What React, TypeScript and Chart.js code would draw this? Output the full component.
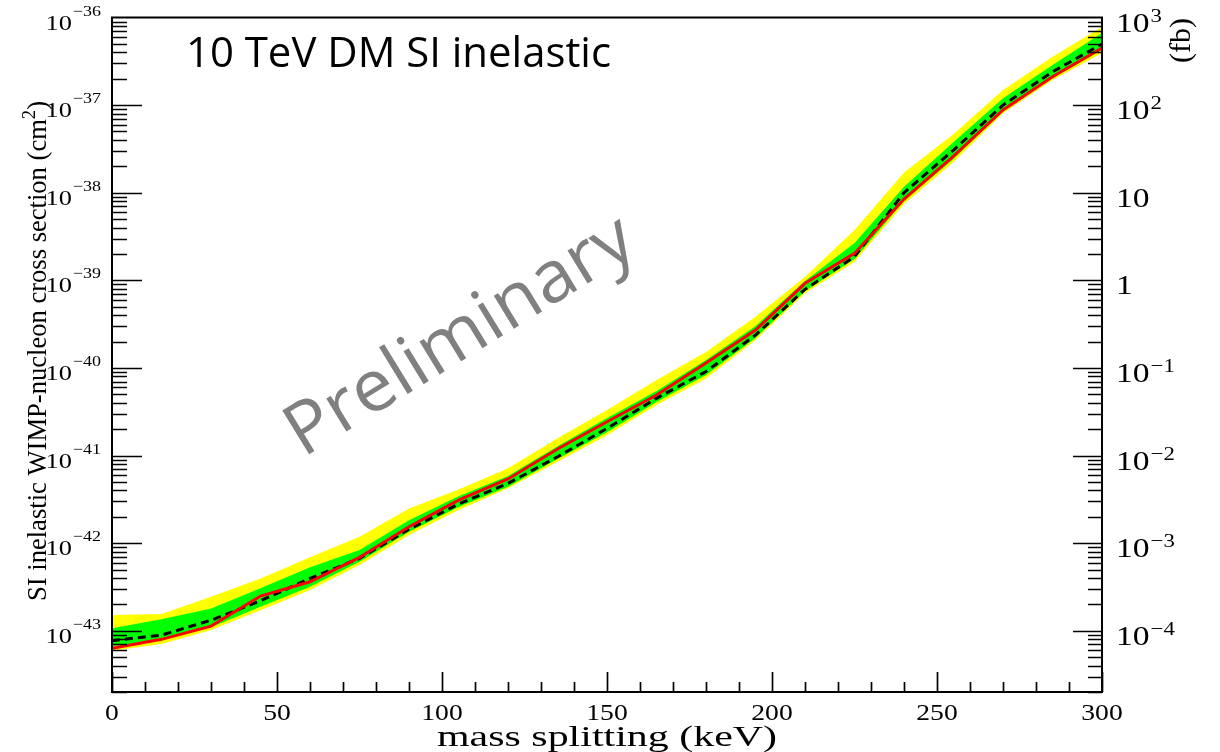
import React, { useEffect, useRef } from "react";
import { Chart, registerables } from "chart.js";

Chart.register(...registerables);

// ---------------- data ----------------
const massSplitting = [0, 15, 30, 45, 60, 75, 90, 105, 120, 135, 150, 165, 180, 195, 210, 225, 240, 255, 270, 285, 300];

const yellowUpper = [1.51e-43, 1.55e-43, 2.44e-43, 3.96e-43, 6.89e-43, 1.18e-42, 2.49e-42, 4.11e-42, 7.14e-42, 1.58e-41, 3.3e-41, 7.28e-41, 1.52e-40, 3.84e-40, 1.1e-39, 3.75e-39, 1.7e-38, 4.68e-38, 1.49e-37, 3.57e-37, 7.85e-37];
const greenUpper = [1.07e-43, 1.35e-43, 1.8e-43, 3.05e-43, 5.3e-43, 8.34e-43, 1.83e-42, 3.44e-42, 5.83e-42, 1.28e-41, 2.68e-41, 5.45e-41, 1.23e-40, 3.01e-40, 9.8e-40, 2.67e-39, 1.17e-38, 3.79e-38, 1.2e-37, 2.87e-37, 6.65e-37];
const expected = [7.7e-44, 8.93e-44, 1.32e-43, 2.2e-43, 3.96e-43, 6.7e-43, 1.44e-42, 2.79e-42, 4.81e-42, 9.68e-42, 2.04e-41, 4.5e-41, 9.1e-41, 2.37e-40, 7.89e-40, 1.86e-39, 1.0e-38, 3.07e-38, 1.0e-37, 2.4e-37, 4.98e-37];
const observed = [6.3e-44, 7.98e-44, 1.13e-43, 2.49e-43, 3.62e-43, 6.89e-43, 1.54e-42, 3.1e-42, 5.4e-42, 1.19e-41, 2.43e-41, 4.9e-41, 1.14e-40, 2.71e-40, 9.25e-40, 2.03e-39, 8.47e-39, 2.62e-38, 8.79e-38, 2.11e-37, 4.49e-37];
const greenLower = [6.7e-44, 7.82e-44, 1.1e-43, 1.88e-43, 3.18e-43, 6.12e-43, 1.35e-42, 2.58e-42, 4.41e-42, 9.12e-42, 1.85e-41, 4.08e-41, 8.3e-41, 2.19e-40, 7.55e-40, 1.75e-39, 8.04e-39, 2.43e-38, 8.57e-38, 2.04e-37, 4.26e-37];
const yellowLower = [5.9e-44, 7.05e-44, 1.02e-43, 1.72e-43, 2.91e-43, 5.62e-43, 1.24e-42, 2.39e-42, 4.22e-42, 8.49e-42, 1.71e-41, 3.77e-41, 7.6e-41, 2.08e-40, 7.1e-40, 1.63e-39, 7.43e-39, 2.24e-38, 8.05e-38, 1.94e-37, 3.94e-37];

// axis ranges and tick labels
const xMin = 0;
const xMax = 300;
const xTickLabels = ["0", "50", "100", "150", "200", "250", "300"];
const yMin = 2e-44;
const yMax = 1e-36;
const leftExponents = [-36, -37, -38, -39, -40, -41, -42, -43];
const fbPerCm2 = 1e39;
const rightTickBases = ["10", "10", "10", "1", "10", "10", "10", "10"];
const rightTickSups = ["3", "2", "", "", "−1", "−2", "−3", "−4"];
const rightTickValues = [1e3, 1e2, 10, 1, 1e-1, 1e-2, 1e-3, 1e-4];

const titleText = "10 TeV DM SI inelastic";
const watermarkText = "Preliminary";
const xTitle = "mass splitting (keV)";
const yTitleMain = "SI inelastic WIMP-nucleon cross section (cm";
const yTitleSup = "2";
const yTitleEnd = ")";
const y2Title = "(fb)";

const SERIF = '"Liberation Serif", "Times New Roman", serif';
const SANS = '"Open Sans", "Noto Sans", sans-serif';

function drawText(
  ctx: CanvasRenderingContext2D,
  s: string,
  x: number,
  y: number,
  size: number,
  sx: number,
  align: CanvasTextAlign,
  family: string,
  color = "#000"
) {
  ctx.save();
  ctx.translate(x, y);
  ctx.scale(sx, 1);
  ctx.font = `${size}px ${family}`;
  ctx.textAlign = align;
  ctx.textBaseline = "alphabetic";
  ctx.fillStyle = color;
  ctx.fillText(s, 0, 0);
  ctx.restore();
}

function textWidth(ctx: CanvasRenderingContext2D, s: string, size: number, family: string) {
  ctx.save();
  ctx.font = `${size}px ${family}`;
  const w = ctx.measureText(s).width;
  ctx.restore();
  return w;
}

const rootAxesPlugin = {
  id: "rootAxes",
  afterDatasetsDraw(chart: any) {
    const ctx: CanvasRenderingContext2D = chart.ctx;
    const { left, right, top, bottom } = chart.chartArea;
    const xs = chart.scales.x;
    const ys = chart.scales.y;
    const y2 = chart.scales.y2;
    ctx.save();
    ctx.strokeStyle = "#000";
    ctx.lineCap = "butt";

    // inward ticks (ROOT style)
    ctx.lineWidth = 1.7;
    ctx.beginPath();
    for (let v = xMin; v <= xMax; v += 10) {
      const px = Math.round(xs.getPixelForValue(v)) + 0.5;
      const len = v % 50 === 0 ? 20 : 10;
      ctx.moveTo(px, bottom);
      ctx.lineTo(px, bottom - len);
    }
    for (let e = -44; e <= -37; e++) {
      for (let k = 1; k <= 9; k++) {
        const v = k * Math.pow(10, e);
        if (v < yMin * 0.999 || v > yMax * 1.001) continue;
        const py = Math.round(ys.getPixelForValue(v)) + 0.5;
        const len = k === 1 ? 30 : 15;
        ctx.moveTo(left, py);
        ctx.lineTo(left + len, py);
      }
    }
    for (let e = -5; e <= 2; e++) {
      for (let k = 1; k <= 9; k++) {
        const v = k * Math.pow(10, e);
        if (v < yMin * fbPerCm2 * 0.999 || v > yMax * fbPerCm2 * 1.001) continue;
        const py = Math.round(y2.getPixelForValue(v)) + 0.5;
        const len = k === 1 ? 29 : 14;
        ctx.moveTo(right, py);
        ctx.lineTo(right - len, py);
      }
    }
    ctx.stroke();

    // frame
    ctx.lineWidth = 2;
    ctx.strokeRect(left, top, right - left, bottom - top);
    ctx.restore();
  },
  afterDraw(chart: any) {
    const ctx: CanvasRenderingContext2D = chart.ctx;
    const { left, right, bottom } = chart.chartArea;
    const xs = chart.scales.x;
    const ys = chart.scales.y;
    const y2 = chart.scales.y2;
    const SX = 1.2;

    // left tick labels 10^e
    leftExponents.forEach((e) => {
      const py = ys.getPixelForValue(Math.pow(10, e));
      const base = py + 12;
      const sup = "−" + Math.abs(e);
      const supW = textWidth(ctx, sup, 15, SERIF) * SX;
      const xr = left - 11;
      drawText(ctx, sup, xr, base - 14, 15, SX, "right", SERIF);
      drawText(ctx, "10", xr - supW - 1, base, 22, SX, "right", SERIF);
    });

    // right tick labels (fb)
    rightTickValues.forEach((v, i) => {
      const py = y2.getPixelForValue(v);
      const base = py + 14;
      const x0 = right + 14;
      drawText(ctx, rightTickBases[i], x0, base, 28, SX, "left", SERIF);
      if (rightTickSups[i]) {
        const bw = textWidth(ctx, rightTickBases[i], 28, SERIF) * SX;
        drawText(ctx, rightTickSups[i], x0 + bw + 1, base - 10, 19, SX, "left", SERIF);
      }
    });

    // bottom tick labels
    xTickLabels.forEach((lab) => {
      const px = xs.getPixelForValue(Number(lab));
      drawText(ctx, lab, px, bottom + 28, 23, SX, "center", SERIF);
    });

    // x axis title
    {
      const fs = 30;
      const w = textWidth(ctx, xTitle, fs, SERIF);
      drawText(ctx, xTitle, (left + right) / 2, bottom + 54, fs, 340 / w, "center", SERIF);
    }

    // y axis title (rotated, reads bottom to top)
    {
      const fs = 27;
      const wMain = textWidth(ctx, yTitleMain, fs, SERIF);
      const wSup = textWidth(ctx, yTitleSup, fs * 0.7, SERIF);
      const wEnd = textWidth(ctx, yTitleEnd, fs, SERIF);
      const total = wMain + wSup + wEnd;
      const k = 500 / total;
      ctx.save();
      ctx.translate(46, 601);
      ctx.rotate(-Math.PI / 2);
      ctx.scale(k, 1);
      ctx.fillStyle = "#000";
      ctx.textBaseline = "alphabetic";
      ctx.textAlign = "left";
      ctx.font = `${fs}px ${SERIF}`;
      ctx.fillText(yTitleMain, 0, 0);
      ctx.font = `${fs * 0.7}px ${SERIF}`;
      ctx.fillText(yTitleSup, wMain, -fs * 0.42);
      ctx.font = `${fs}px ${SERIF}`;
      ctx.fillText(yTitleEnd, wMain + wSup, 0);
      ctx.restore();
    }

    // right axis title
    {
      const fs = 29;
      ctx.save();
      ctx.translate(1190, 63);
      ctx.rotate(-Math.PI / 2);
      ctx.font = `${fs}px ${SERIF}`;
      ctx.fillStyle = "#000";
      ctx.textAlign = "left";
      ctx.textBaseline = "alphabetic";
      const w = ctx.measureText(y2Title).width;
      ctx.scale(45 / w, 1);
      ctx.fillText(y2Title, 0, 0);
      ctx.restore();
    }

    // overlay title
    {
      const fs = 42;
      const w = textWidth(ctx, titleText, fs, SANS);
      drawText(ctx, titleText, 186, 67, fs, 425 / w, "left", SANS);
    }

    // watermark
    {
      const fs = 72;
      ctx.save();
      ctx.translate(303, 458);
      ctx.rotate((-31.5 * Math.PI) / 180);
      ctx.font = `${fs}px ${SANS}`;
      const w = ctx.measureText(watermarkText).width;
      ctx.scale(395 / w, 1);
      ctx.fillStyle = "#808080";
      ctx.textAlign = "left";
      ctx.textBaseline = "alphabetic";
      ctx.fillText(watermarkText, 0, 0);
      ctx.restore();
    }
  },
};

function pts(arr: number[]) {
  return massSplitting.map((x, i) => ({ x, y: arr[i] }));
}

export default function App() {
  const canvasRef = useRef<HTMLCanvasElement | null>(null);

  useEffect(() => {
    const canvas = canvasRef.current;
    if (!canvas) return;
    const chart = new Chart(canvas, {
      type: "line",
      data: {
        datasets: [
          { label: "±2σ upper", data: pts(yellowUpper), fill: "+1", backgroundColor: "#ffff00", borderColor: "transparent", borderWidth: 0, pointRadius: 0, order: 6 },
          { label: "±2σ lower", data: pts(yellowLower), fill: false, borderColor: "transparent", borderWidth: 0, pointRadius: 0, order: 5 },
          { label: "±1σ upper", data: pts(greenUpper), fill: "+1", backgroundColor: "#00ff00", borderColor: "transparent", borderWidth: 0, pointRadius: 0, order: 4 },
          { label: "±1σ lower", data: pts(greenLower), fill: false, borderColor: "transparent", borderWidth: 0, pointRadius: 0, order: 3 },
          { label: "expected", data: pts(expected), fill: false, borderColor: "#000000", borderWidth: 3, borderDash: [8, 5], pointRadius: 0, order: 2 },
          { label: "observed", data: pts(observed), fill: false, borderColor: "#ff0000", borderWidth: 3, pointRadius: 0, order: 1 },
        ],
      },
      options: {
        responsive: false,
        animation: false,
        events: [],
        layout: { padding: { left: 112, right: 118, top: 17.5, bottom: 60 } },
        plugins: { legend: { display: false }, tooltip: { enabled: false }, title: { display: false } },
        elements: { line: { tension: 0 }, point: { radius: 0 } },
        scales: {
          x: { type: "linear", min: xMin, max: xMax, display: false },
          y: { type: "logarithmic", min: yMin, max: yMax, display: false },
          y2: { type: "logarithmic", position: "right", min: yMin * fbPerCm2, max: yMax * fbPerCm2, display: false },
        },
      },
      plugins: [rootAxesPlugin],
    });
    return () => chart.destroy();
  }, []);

  return (
    <div style={{ position: "fixed", left: 0, top: 0, width: 1220, height: 752, background: "#fff" }}>
      <canvas ref={canvasRef} width={1220} height={752} style={{ display: "block" }} />
    </div>
  );
}
